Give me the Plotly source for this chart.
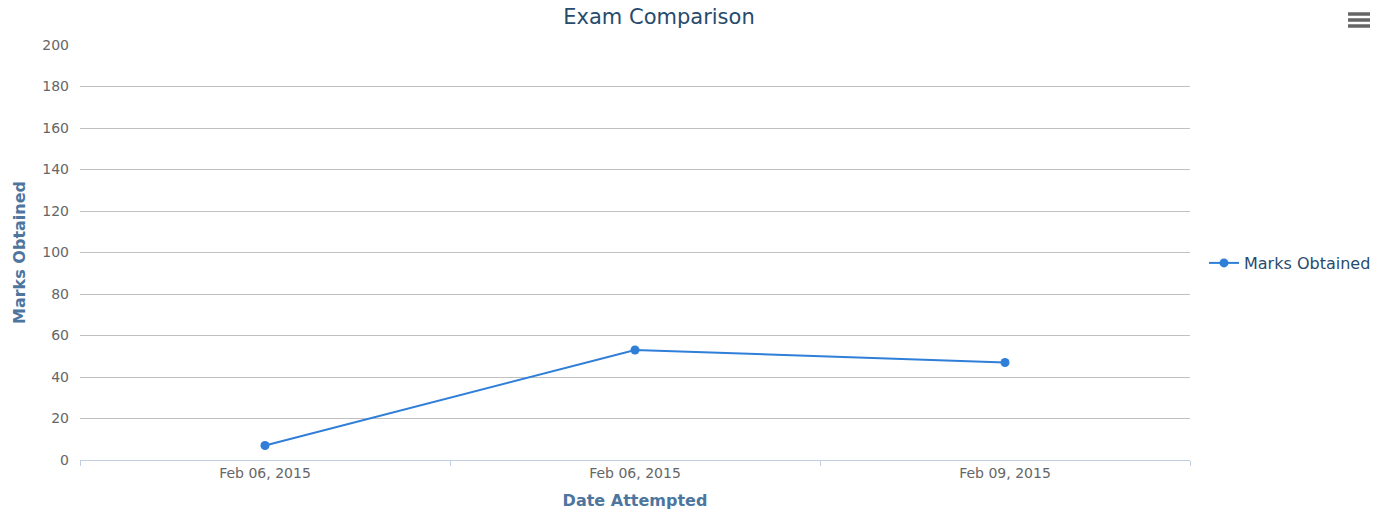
import plotly.graph_objects as go

# data
dates = ['Feb 06, 2015', 'Feb 06, 2015', 'Feb 09, 2015']
marks = [7, 53, 47]
y_ticks = list(range(0, 201, 20))

BLUE = '#2f7ed8'
TITLE = '#274b6d'
AXT = '#4d759e'
LBL = '#666666'
FONT = 'DejaVu Sans'

W, H = 1377, 512
# plot area in page pixels
PL, PR, PT, PB = 80, 1190, 45, 460
PW, PH = PR - PL, PB - PT

pos = list(range(len(dates)))

fig = go.Figure()
fig.add_trace(go.Scatter(
    x=pos, y=marks, mode='lines+markers', name='Marks Obtained',
    line=dict(color=BLUE, width=2), marker=dict(color=BLUE, size=9)))

fig.update_layout(
    width=W, height=H,
    paper_bgcolor='white', plot_bgcolor='white',
    margin=dict(l=PL, r=W - PR, t=PT, b=H - PB, autoexpand=False),
    font=dict(family=FONT, color=LBL, size=14),
    title=dict(text='Exam Comparison', x=659 / W, xanchor='center', xref='container',
               y=1 - 17 / H, yanchor='middle', yref='container',
               font=dict(size=21, color=TITLE, family=FONT)),
    showlegend=True,
    legend=dict(x=(1204 - PL) / PW, xanchor='left', y=(PB - 263) / PH, yanchor='middle',
                font=dict(size=16, color=TITLE, family=FONT),
                bgcolor='rgba(0,0,0,0)', itemwidth=30),
    xaxis=dict(range=[-0.5, len(dates) - 0.5], tickvals=pos, ticktext=dates,
               ticks='', ticklabelstandoff=0, tickfont=dict(size=14, color=LBL),
               minor=dict(tickvals=[i - 0.5 for i in range(len(dates) + 1)], ticks='outside',
                          ticklen=5, tickcolor='#C0D0E0', showgrid=False),
               showline=True, linecolor='#C0D0E0', linewidth=1, showgrid=False, zeroline=False,
               automargin=False,
               title=dict(text='<b>Date Attempted</b>', standoff=15,
                          font=dict(size=16, color=AXT, family=FONT))),
    yaxis=dict(range=[0, 200], tickvals=y_ticks, showgrid=True, gridcolor='#C0C0C0',
               gridwidth=1, zeroline=False, showline=False, ticks='',
               ticklabelstandoff=10, tickfont=dict(size=14, color=LBL), automargin=False,
               title=dict(text='<b>Marks Obtained</b>', standoff=12,
                          font=dict(size=16, color=AXT, family=FONT))),
    # export menu icon
    shapes=[dict(type='line', xref='paper', yref='paper',
                 x0=(1348 - PL) / PW, x1=(1370 - PL) / PW,
                 y0=(PB - yy) / PH, y1=(PB - yy) / PH,
                 line=dict(color='#666666', width=3.5)) for yy in (14, 20, 26)],
)

# drop the browser's default 8px body margin so page pixels match the layout
fig.write_html('out.html', config={'displayModeBar': False},
               post_script="document.body.style.margin='0';")
